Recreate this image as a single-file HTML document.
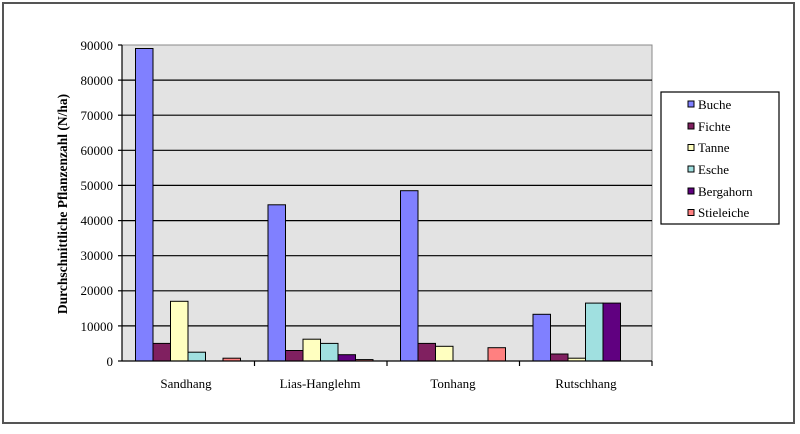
<!DOCTYPE html>
<html><head><meta charset="utf-8"><style>
body{margin:0;background:#fff;}
svg{display:block;font-family:"Liberation Serif",serif;}
</style></head><body>
<svg width="800" height="434" viewBox="0 0 800 434" xmlns="http://www.w3.org/2000/svg">
<rect x="0" y="0" width="800" height="434" fill="#fff"/>
<rect x="3" y="3" width="791" height="420" fill="none" stroke="#555" stroke-width="2"/>
<rect x="122" y="45" width="530" height="316" fill="#e3e3e3" stroke="#888" stroke-width="1"/>
<g stroke="#000" stroke-width="1.2">
<line x1="122" y1="80.1" x2="652" y2="80.1"/>
<line x1="122" y1="115.2" x2="652" y2="115.2"/>
<line x1="122" y1="150.3" x2="652" y2="150.3"/>
<line x1="122" y1="185.4" x2="652" y2="185.4"/>
<line x1="122" y1="220.6" x2="652" y2="220.6"/>
<line x1="122" y1="255.7" x2="652" y2="255.7"/>
<line x1="122" y1="290.8" x2="652" y2="290.8"/>
<line x1="122" y1="325.9" x2="652" y2="325.9"/>
</g>
<g stroke="#000" stroke-width="1">
<rect x="135.5" y="48.5" width="17.5" height="312.5" fill="#8080ff"/>
<rect x="153" y="343.4" width="17.5" height="17.6" fill="#802060"/>
<rect x="170.5" y="301.3" width="17.5" height="59.7" fill="#ffffc0"/>
<rect x="188" y="352.2" width="17.5" height="8.8" fill="#a0e0e0"/>
<rect x="223" y="358.2" width="17.5" height="2.8" fill="#ff8080"/>

<rect x="268" y="204.8" width="17.5" height="156.2" fill="#8080ff"/>
<rect x="285.5" y="350.5" width="17.5" height="10.5" fill="#802060"/>
<rect x="303" y="339.2" width="17.5" height="21.8" fill="#ffffc0"/>
<rect x="320.5" y="343.4" width="17.5" height="17.6" fill="#a0e0e0"/>
<rect x="338" y="354.7" width="17.5" height="6.3" fill="#600080"/>
<rect x="355.5" y="359.6" width="17.5" height="1.4" fill="#ff8080"/>

<rect x="400.5" y="190.7" width="17.5" height="170.3" fill="#8080ff"/>
<rect x="418" y="343.4" width="17.5" height="17.6" fill="#802060"/>
<rect x="435.5" y="346.3" width="17.5" height="14.7" fill="#ffffc0"/>
<rect x="488" y="347.7" width="17.5" height="13.3" fill="#ff8080"/>

<rect x="533" y="314.3" width="17.5" height="46.7" fill="#8080ff"/>
<rect x="550.5" y="354" width="17.5" height="7" fill="#802060"/>
<rect x="568" y="358.2" width="17.5" height="2.8" fill="#ffffc0"/>
<rect x="585.5" y="303.1" width="17.5" height="57.9" fill="#a0e0e0"/>
<rect x="603" y="303.1" width="17.5" height="57.9" fill="#600080"/>
</g>
<g stroke="#000" stroke-width="1.2">
<line x1="122" y1="45" x2="122" y2="361"/>
<line x1="122" y1="361" x2="652" y2="361"/>
<line x1="118" y1="45" x2="122" y2="45"/><line x1="118" y1="80.1" x2="122" y2="80.1"/>
<line x1="118" y1="115.2" x2="122" y2="115.2"/><line x1="118" y1="150.3" x2="122" y2="150.3"/>
<line x1="118" y1="185.4" x2="122" y2="185.4"/><line x1="118" y1="220.6" x2="122" y2="220.6"/>
<line x1="118" y1="255.7" x2="122" y2="255.7"/><line x1="118" y1="290.8" x2="122" y2="290.8"/>
<line x1="118" y1="325.9" x2="122" y2="325.9"/><line x1="118" y1="361" x2="122" y2="361"/>
<line x1="254.5" y1="361" x2="254.5" y2="366"/><line x1="387" y1="361" x2="387" y2="366"/>
<line x1="519.5" y1="361" x2="519.5" y2="366"/><line x1="652" y1="361" x2="652" y2="366"/>
</g>
<g font-size="13" text-anchor="end" fill="#000">
<text x="113" y="50">90000</text><text x="113" y="85">80000</text><text x="113" y="120">70000</text>
<text x="113" y="155">60000</text><text x="113" y="190">50000</text><text x="113" y="225">40000</text>
<text x="113" y="260">30000</text><text x="113" y="295">20000</text><text x="113" y="331">10000</text>
<text x="113" y="366">0</text>
</g>
<text transform="translate(67,204) rotate(-90)" font-size="13.5" font-weight="bold" text-anchor="middle">Durchschnittliche Pflanzenzahl (N/ha)</text>
<g font-size="13" text-anchor="middle">
<text x="186" y="388">Sandhang</text>
<text x="320" y="388">Lias-Hanglehm</text>
<text x="453" y="388">Tonhang</text>
<text x="586" y="388">Rutschhang</text>
</g>
<rect x="661" y="92" width="118" height="132" fill="#fff" stroke="#000" stroke-width="1.2"/>
<g stroke="#000" stroke-width="1">
<rect x="688" y="101" width="6" height="6" fill="#8080ff"/>
<rect x="688" y="123" width="6" height="6" fill="#802060"/>
<rect x="688" y="144.5" width="6" height="6" fill="#ffffc0"/>
<rect x="688" y="166" width="6" height="6" fill="#a0e0e0"/>
<rect x="688" y="188" width="6" height="6" fill="#600080"/>
<rect x="688" y="209.5" width="6" height="6" fill="#ff8080"/>
</g>
<g font-size="13">
<text x="698" y="109">Buche</text>
<text x="698" y="131">Fichte</text>
<text x="698" y="152">Tanne</text>
<text x="698" y="174">Esche</text>
<text x="698" y="196">Bergahorn</text>
<text x="698" y="217">Stieleiche</text>
</g>
</svg>
</body></html>
